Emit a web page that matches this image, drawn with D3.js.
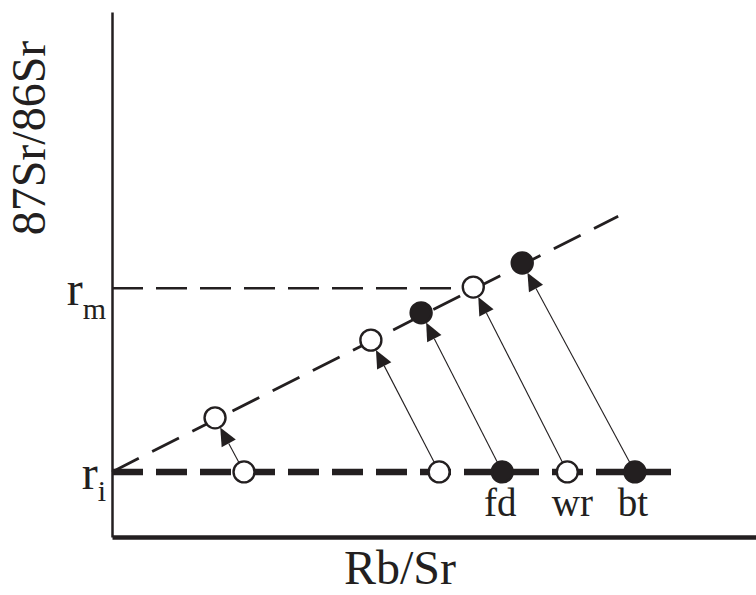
<!DOCTYPE html>
<html>
<head>
<meta charset="utf-8">
<script src="https://cdn.jsdelivr.net/npm/d3@7"></script>
<style>
  html, body { margin: 0; padding: 0; background: #fff; }
  svg { display: block; }
  text { font-family: "Liberation Serif", "DejaVu Serif", serif; fill: #231f20; }
</style>
</head>
<body>
<svg id="chart" width="756" height="595"></svg>
<script>
// ---- data (arbitrary schematic units, 0..100) ----
const ri = 12.4;                 // initial ratio r_i
const rm = 47.4;                 // ratio r_m
const riLineEnd = 87.1;          // extent of the r_i dashed line
const rmLineEnd = 56.1;          // extent of the r_m dashed line
const isochronX = [0, 78.6];
const isochronY = [12.4, 61.1];
const lowerX = [20.5, 50.8, 60.6, 70.7, 81.2];      // minerals at time of formation (on r_i)
const upperX = [16.0, 40.2, 48.0, 56.1, 63.7];      // after evolution (on isochron)
const upperY = [22.7, 37.5, 42.7, 47.6, 52.2];
const pointFilled = [false, false, true, false, true];
const pointLabels = ["", "", "fd", "wr", "bt"];
const xTitle = "Rb/Sr";
const yTitle = "87Sr/86Sr";

// ---- layout ----
const ink = "#231f20";
const svg = d3.select("#chart");
const x = d3.scaleLinear().domain([0, 100]).range([112, 756]);
const y = d3.scaleLinear().domain([0, 100]).range([537, 12]);
const R = 10.5;

// axes (no ticks)
const gx = svg.append("g").attr("transform", `translate(0,${y(0)})`)
  .call(d3.axisBottom(x).tickValues([]).tickSizeOuter(0));
gx.select(".domain").attr("stroke", ink).attr("stroke-width", 4.5);
const gy = svg.append("g").attr("transform", `translate(${x(0)},0)`)
  .call(d3.axisLeft(y).tickValues([]).tickSizeOuter(0));
gy.select(".domain").attr("stroke", ink).attr("stroke-width", 2.5);

// r_m dashed line
svg.append("line")
  .attr("x1", x(0)).attr("x2", x(rmLineEnd))
  .attr("y1", y(rm)).attr("y2", y(rm))
  .attr("stroke", ink).attr("stroke-width", 2.5)
  .attr("stroke-dasharray", "31,13");

// r_i thick dashed line
svg.append("line")
  .attr("x1", x(0)).attr("x2", x(riLineEnd))
  .attr("y1", y(ri)).attr("y2", y(ri))
  .attr("stroke", ink).attr("stroke-width", 6.5)
  .attr("stroke-dasharray", "31,13");

// isochron
svg.append("line")
  .attr("x1", x(isochronX[0])).attr("y1", y(isochronY[0]))
  .attr("x2", x(isochronX[1])).attr("y2", y(isochronY[1]))
  .attr("stroke", ink).attr("stroke-width", 2.8)
  .attr("stroke-dasharray", "30,15");

// arrows
lowerX.forEach((lx, i) => {
  const x0 = x(lx), y0 = y(ri);
  const x1 = x(upperX[i]), y1 = y(upperY[i]);
  const len = Math.hypot(x1 - x0, y1 - y0);
  const ux = (x1 - x0) / len, uy = (y1 - y0) / len;
  const nx = -uy, ny = ux;
  const tipX = x1 - ux * (R + 0.5), tipY = y1 - uy * (R + 0.5);
  const bX = tipX - ux * 18, bY = tipY - uy * 18;
  svg.append("line")
    .attr("x1", x0 + ux * R).attr("y1", y0 + uy * R)
    .attr("x2", bX).attr("y2", bY)
    .attr("stroke", ink).attr("stroke-width", 1.1);
  svg.append("polygon")
    .attr("points", [[tipX, tipY], [bX + nx * 8, bY + ny * 8], [bX - nx * 8, bY - ny * 8]].map(p => p.join(",")).join(" "))
    .attr("fill", ink);
});

// points
const drawPts = (xs, ys) => {
  svg.append("g").selectAll("circle").data(xs).join("circle")
    .attr("cx", d => x(d)).attr("cy", (d, i) => y(ys[i]))
    .attr("r", R)
    .attr("fill", (d, i) => pointFilled[i] ? ink : "#fff")
    .attr("stroke", ink).attr("stroke-width", 2.4);
};
drawPts(lowerX, lowerX.map(() => ri));
drawPts(upperX, upperY);

// point labels
svg.append("g").selectAll("text").data(lowerX).join("text")
  .attr("x", d => x(d)).attr("y", 516)
  .attr("dx", (d, i) => i === 3 ? 5 : -2)
  .attr("text-anchor", "middle").attr("font-size", 39)
  .text((d, i) => pointLabels[i]);

// r_m / r_i labels
const lab = (val, sub, dy, subSize) => {
  const t = svg.append("text").attr("x", x(0) - 6).attr("y", y(val) + 17)
    .attr("text-anchor", "end").attr("font-size", 48);
  t.append("tspan").text("r");
  t.append("tspan").attr("font-size", subSize).attr("dy", dy).text(sub);
};
lab(rm, "m", 14, 30);
lab(ri, "i", 12, 30);

// axis titles
svg.append("text").attr("x", 400).attr("y", 584)
  .attr("text-anchor", "middle").attr("font-size", 48).text(xTitle);
svg.append("text").attr("transform", "translate(45,138) rotate(-90)")
  .attr("text-anchor", "middle").attr("font-size", 48).text(yTitle);
</script>
</body>
</html>
